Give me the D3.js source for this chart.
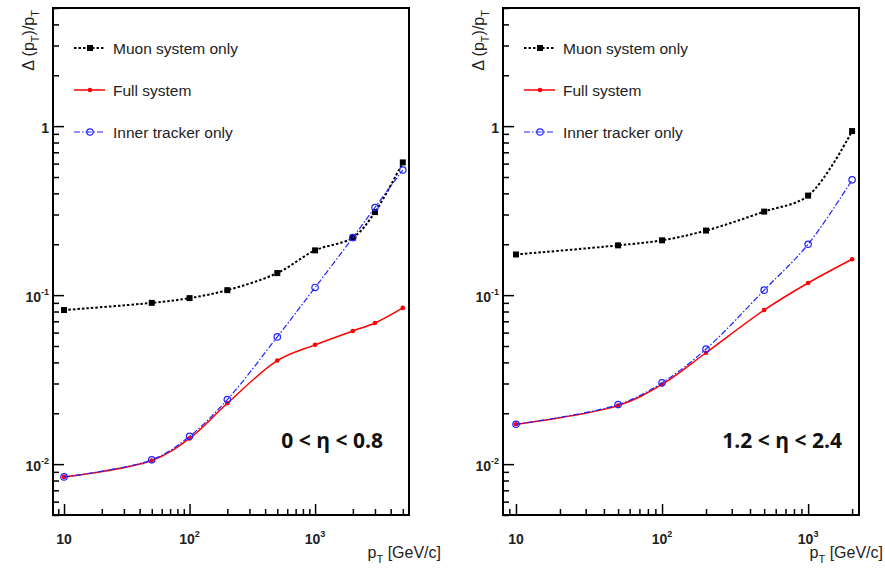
<!DOCTYPE html>
<html>
<head>
<meta charset="utf-8">
<script src="https://cdn.jsdelivr.net/npm/d3@7"></script>
<style>
  body { margin: 0; background: #fff; }
  svg { display: block; }
  .tick text { display: none; }
</style>
</head>
<body>
<div id="chart"></div>
<script>
// ---- data ----
var legendNames = ["Muon system only", "Full system", "Inner tracker only"]

var ptBarrel = [10, 50, 100, 200, 500, 1000, 2000, 3000, 5000]
var muonBarrel  = [0.0816, 0.090, 0.096, 0.107, 0.135, 0.184, 0.219, 0.31, 0.61]
var fullBarrel  = [0.0084, 0.0105, 0.0142, 0.0229, 0.041, 0.0508, 0.0614, 0.0684, 0.084]
var innerBarrel = [0.0084, 0.0106, 0.0146, 0.0241, 0.0566, 0.111, 0.219, 0.33, 0.55]

var ptEndcap = [10, 50, 100, 200, 500, 1000, 2000]
var muonEndcap  = [0.174, 0.197, 0.211, 0.241, 0.312, 0.388, 0.935]
var fullEndcap  = [0.0172, 0.0222, 0.0296, 0.0456, 0.0816, 0.118, 0.163]
var innerEndcap = [0.0172, 0.0225, 0.0303, 0.048, 0.107, 0.2, 0.481]

var xMajorTicks = [10, 100, 1000]
var xTickExp = [null, 2, 3]
var yMajorTicks = [0.01, 0.1, 1]
var yTickExp = [-2, -1, null]

var W = 885, H = 568

var svg = d3.select("#chart").append("svg")
    .attr("width", W)
    .attr("height", H)
    .style("font-family", "'Liberation Sans', Arial, sans-serif")

var styles = [
    {color: "#000", dash: "2.5,2", width: 2, marker: "square"},
    {color: "#f00", dash: null, width: 1.5, marker: "dot"},
    {color: "#22f", dash: "6,2,1.5,2", width: 1.2, marker: "ring"}
]

function logTicks(domain){
    var out = []
    for (var e = -4; e <= 4; e++){
        for (var m = 1; m < 10; m++){
            var v = m * Math.pow(10, e)
            if (v >= domain[0] && v <= domain[1]) out.push(v)
        }
    }
    return out
}

function drawPanel(cfg){
    var g = svg.append("g")
    var x = d3.scaleLog().domain(cfg.xDomain).range([cfg.left, cfg.right])
    var y = d3.scaleLog().domain([0.005, 5]).range([cfg.bottom, cfg.top])

    var xMinor = logTicks(cfg.xDomain).filter(function(v){ return xMajorTicks.indexOf(v) < 0 })
    var yMinor = logTicks([0.005, 5]).filter(function(v){ return yMajorTicks.indexOf(v) < 0 })

    // inward ticks through d3 axes
    g.append("g").attr("transform", `translate(0,${cfg.bottom})`)
        .call(d3.axisBottom(x).tickValues(xMinor).tickSize(-6).tickFormat(""))
    g.append("g").attr("transform", `translate(0,${cfg.bottom})`)
        .call(d3.axisBottom(x).tickValues(xMajorTicks).tickSize(-11).tickFormat(""))
    g.append("g").attr("transform", `translate(${cfg.left},0)`)
        .call(d3.axisLeft(y).tickValues(yMinor).tickSize(-6).tickFormat(""))
    g.append("g").attr("transform", `translate(${cfg.left},0)`)
        .call(d3.axisLeft(y).tickValues(yMajorTicks).tickSize(-11).tickFormat(""))
    g.selectAll(".domain").remove()
    g.selectAll(".tick line").attr("stroke", "#000").attr("stroke-width", 1.5)

    // frame
    g.append("rect")
        .attr("x", cfg.left).attr("y", cfg.top)
        .attr("width", cfg.right - cfg.left).attr("height", cfg.bottom - cfg.top)
        .attr("fill", "none").attr("stroke", "#000").attr("stroke-width", 2)

    // x tick labels
    xMajorTicks.forEach(function(v, i){
        var t = g.append("text")
            .attr("x", x(v)).attr("y", cfg.bottom + 29)
            .attr("text-anchor", "middle")
            .attr("font-size", 14).attr("font-weight", "bold").attr("fill", "#222")
        t.append("tspan").text("10")
        if (xTickExp[i] !== null)
            t.append("tspan").attr("dy", -7).attr("font-size", 9).text(xTickExp[i])
    })
    // y tick labels
    yMajorTicks.forEach(function(v, i){
        var t = g.append("text")
            .attr("x", cfg.left - 4).attr("y", y(v) + 7)
            .attr("text-anchor", "end")
            .attr("font-size", 14).attr("font-weight", "bold").attr("fill", "#222")
        if (yTickExp[i] === null){
            t.text("1")
        } else {
            t.append("tspan").text("10")
            t.append("tspan").attr("dy", -7).attr("font-size", 9).text(yTickExp[i])
        }
    })

    // axis titles
    var yt = g.append("text")
        .attr("transform", `translate(${cfg.left - 19},${cfg.top + 2}) rotate(-90)`)
        .attr("text-anchor", "end")
        .attr("font-size", 16).attr("fill", "#222")
    yt.append("tspan").text("\u0394 (p")
    yt.append("tspan").attr("dy", 5).attr("font-size", 11).text("T")
    yt.append("tspan").attr("dy", -5).text(")/p")
    yt.append("tspan").attr("dy", 5).attr("font-size", 11).text("T")

    var xt = g.append("text")
        .attr("x", cfg.xTitleX).attr("y", 558)
        .attr("text-anchor", "end")
        .attr("font-size", 16).attr("fill", "#222")
    xt.append("tspan").text("p")
    xt.append("tspan").attr("dy", 5).attr("font-size", 11).text("T")
    xt.append("tspan").attr("dy", -5).text(" [GeV/c]")

    // curves
    var line = d3.line()
        .x(function(d){ return x(d[0]) })
        .y(function(d){ return y(d[1]) })
        .curve(d3.curveCatmullRom.alpha(0.5))

    cfg.series.forEach(function(vals, k){
        var st = styles[k]
        var pts = cfg.pt.map(function(p, i){ return [p, vals[i]] })
        g.append("path").datum(pts)
            .attr("d", line)
            .attr("fill", "none")
            .attr("stroke", st.color)
            .attr("stroke-width", st.width)
            .attr("stroke-dasharray", st.dash)
        drawMarkers(g, pts.map(function(d){ return [x(d[0]), y(d[1])] }), st)
    })

    // legend
    legendNames.forEach(function(name, k){
        var st = styles[k]
        var ly = cfg.top + 40 + k * 42
        var lx = cfg.left + 21
        g.append("line")
            .attr("x1", lx).attr("x2", lx + 31).attr("y1", ly).attr("y2", ly)
            .attr("stroke", st.color).attr("stroke-width", st.width)
            .attr("stroke-dasharray", st.dash)
        drawMarkers(g, [[lx + 16, ly]], st)
        g.append("text")
            .attr("x", lx + 39).attr("y", ly + 5.5)
            .attr("font-size", 15.5).attr("fill", "#222")
            .text(name)
    })

    // eta range
    g.append("text")
        .attr("x", cfg.etaX).attr("y", 448)
        .attr("text-anchor", "end")
        .attr("font-family", "'Open Sans', sans-serif")
        .attr("font-weight", "bold").attr("font-size", 21).attr("fill", "#111")
        .text(cfg.eta)
}

function drawMarkers(g, pts, st){
    pts.forEach(function(p){
        if (st.marker === "square"){
            g.append("rect").attr("x", p[0] - 3).attr("y", p[1] - 3)
                .attr("width", 6).attr("height", 6).attr("fill", st.color)
        } else if (st.marker === "dot"){
            g.append("circle").attr("cx", p[0]).attr("cy", p[1]).attr("r", 2.3)
                .attr("fill", st.color)
        } else {
            g.append("circle").attr("cx", p[0]).attr("cy", p[1]).attr("r", 3.2)
                .attr("fill", "none").attr("stroke", st.color).attr("stroke-width", 1.2)
        }
    })
}

drawPanel({
    left: 53, right: 409, top: 8, bottom: 515,
    xDomain: [8.17, 5600], xTitleX: 441, etaX: 383,
    pt: ptBarrel, series: [muonBarrel, fullBarrel, innerBarrel],
    eta: "0 < \u03b7 < 0.8"
})
drawPanel({
    left: 503, right: 859, top: 8, bottom: 515,
    xDomain: [8.15, 2230], xTitleX: 883, etaX: 842,
    pt: ptEndcap, series: [muonEndcap, fullEndcap, innerEndcap],
    eta: "1.2 < \u03b7 < 2.4"
})
</script>
</body>
</html>
